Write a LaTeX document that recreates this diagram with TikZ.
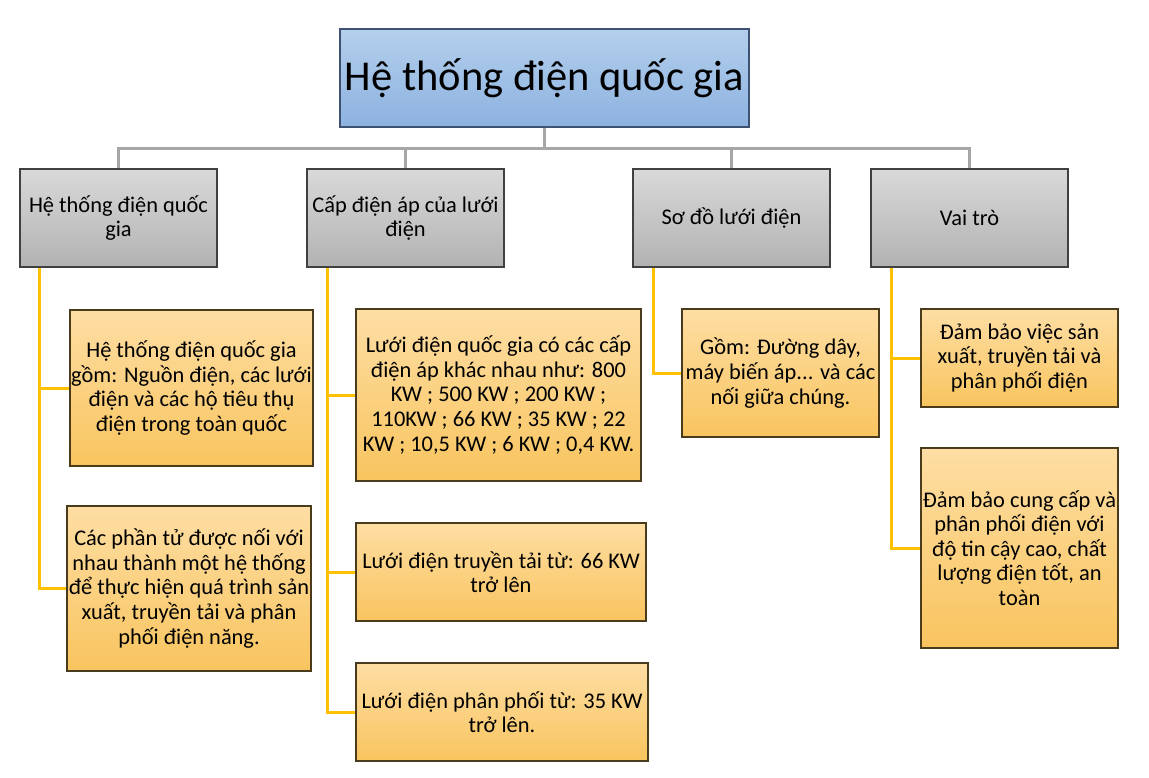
\documentclass[tikz,border=0pt]{standalone}
\usepackage{fontspec}
\setmainfont{Carlito}
\usetikzlibrary{positioning}

\definecolor{rootTop}{HTML}{B3CFEC}
\definecolor{rootBot}{HTML}{8DB2E0}
\definecolor{rootLine}{HTML}{3E5170}
\definecolor{grayTop}{HTML}{D9D9D9}
\definecolor{grayBot}{HTML}{B2B2B2}
\definecolor{yelTop}{HTML}{FEDEA4}
\definecolor{yelBot}{HTML}{F8C45E}
\definecolor{yelLine}{HTML}{FFC000}
\definecolor{trunkGray}{HTML}{A6A6A6}

\begin{document}
\begin{tikzpicture}[x=1pt, y=-1pt,
  every node/.style={rectangle, inner sep=0pt, align=center, font=\fontsize{22.4}{24.6}\selectfont},
  root/.style={draw=rootLine, line width=1.2pt, top color=rootTop, bottom color=rootBot,
    minimum width=409pt, minimum height=98pt, font=\fontsize{42.5}{48}\selectfont},
  topic/.style={draw=black!75, line width=1.2pt, top color=grayTop, bottom color=grayBot,
    minimum width=197pt, minimum height=98pt},
  detail/.style={draw=black!70!yelBot, line width=1.2pt, top color=yelTop, bottom color=yelBot},
  trunk/.style={draw=trunkGray, line width=3pt},
  branch/.style={draw=yelLine, line width=3pt},
]
  \useasboundingbox (0,0) rectangle (1149,777);

  % root and topics
  \node[root] (root) at (544.5,78) {Hệ thống điện quốc gia};
  \node[topic] (hA) at (118.5,218) {Hệ thống điện quốc\\gia};
  \node[topic] (hB) at (405.5,218) {Cấp điện áp của lưới\\điện};
  \node[topic] (hC) at (731.5,218) {Sơ đồ lưới điện};
  \node[topic] (hD) at (969.5,218) {Vai trò};

  % details
  \node[detail, minimum width=243pt, minimum height=156pt] (dA1) at (191.5,388)
    {Hệ thống điện quốc gia\\gồm: Nguồn điện, các lưới\\điện và các hộ tiêu thụ\\điện trong toàn quốc};
  \node[detail, minimum width=244pt, minimum height=165pt] (dA2) at (189,588.5)
    {Các phần tử được nối với\\nhau thành một hệ thống\\để thực hiện quá trình sản\\xuất, truyền tải và phân\\phối điện năng.};
  \node[detail, minimum width=285pt, minimum height=172pt] (dB1) at (498.5,395)
    {Lưới điện quốc gia có các cấp\\điện áp khác nhau như: 800\\KW ; 500 KW ; 200 KW ;\\110KW ; 66 KW ; 35 KW ; 22\\KW ; 10,5 KW ; 6 KW ; 0,4 KW.};
  \node[detail, minimum width=290pt, minimum height=98pt] (dB2) at (501,572)
    {Lưới điện truyền tải từ: 66 KW\\trở lên};
  \node[detail, minimum width=292pt, minimum height=98pt] (dB3) at (502,712)
    {Lưới điện phân phối từ: 35 KW\\trở lên.};
  \node[detail, minimum width=197pt, minimum height=128pt] (dC1) at (780.5,373)
    {Gồm: Đường dây,\\máy biến áp... và các\\nối giữa chúng.};
  \node[detail, minimum width=197pt, minimum height=98pt] (dD1) at (1019.5,358)
    {Đảm bảo việc sản\\xuất, truyền tải và\\phân phối điện};
  \node[detail, minimum width=197pt, minimum height=200pt] (dD2) at (1019.5,548)
    {Đảm bảo cung cấp và\\phân phối điện với\\độ tin cậy cao, chất\\lượng điện tốt, an\\toàn};

  % connectors
  \coordinate (bus) at ([yshift=-21pt]root.south);
  \foreach \t in {hA,hB,hC,hD}
    \draw[trunk] (root.south) -- (bus) -| (\t.north);

  \draw[branch] ([xshift=20pt]hA.south west) |- (dA1.west);
  \draw[branch] ([xshift=20pt]hA.south west) |- (dA2.west);
  \foreach \d in {dB1,dB2,dB3}
    \draw[branch] ([xshift=21pt]hB.south west) |- (\d.west);
  \draw[branch] ([xshift=21pt]hC.south west) |- (dC1.west);
  \draw[branch] ([xshift=21pt]hD.south west) |- (dD1.west);
  \draw[branch] ([xshift=21pt]hD.south west) |- (dD2.west);
\end{tikzpicture}
\end{document}
